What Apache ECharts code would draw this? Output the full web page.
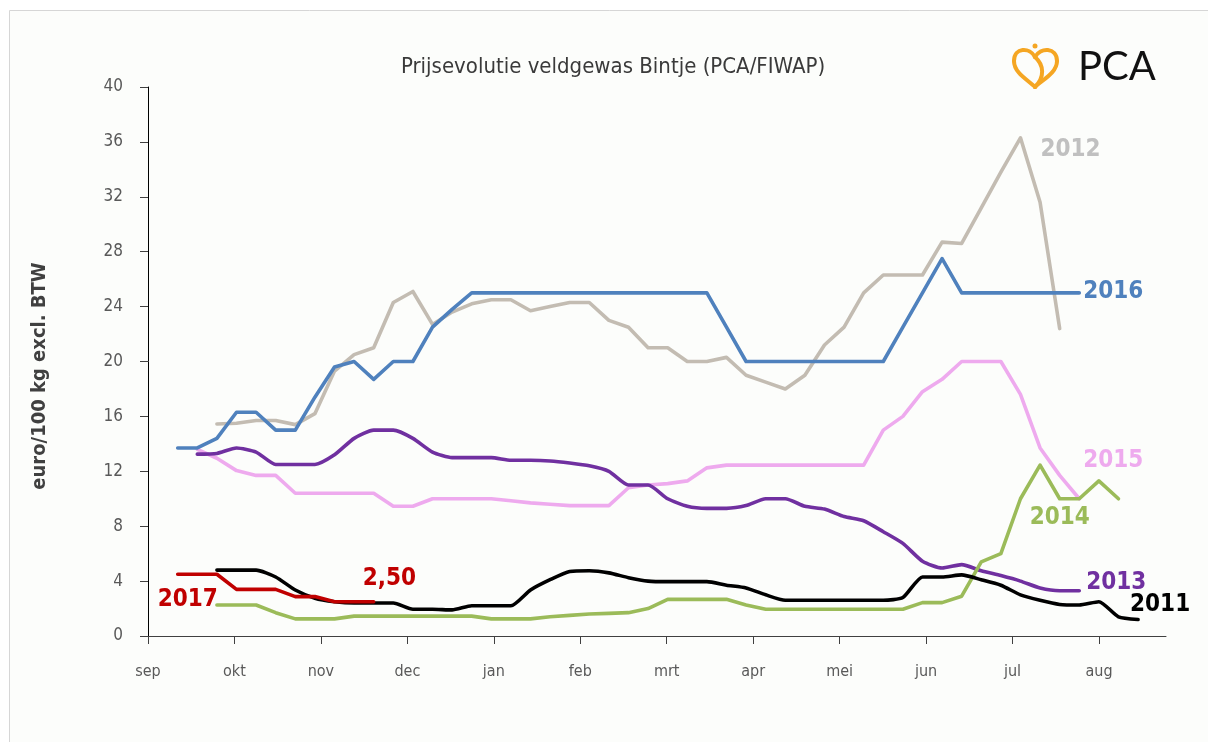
<!DOCTYPE html>
<html>
<head>
<meta charset="utf-8">
<script src="https://cdn.jsdelivr.net/npm/echarts/dist/echarts.min.js"></script>
<style>
html,body{margin:0;padding:0;background:#ffffff;}
#chart{width:1208px;height:742px;}
</style>
</head>
<body>
<div id="chart"></div>
<script>
// ---------- data ----------
const months = ['sep','okt','nov','dec','jan','feb','mrt','apr','mei','jun','jul','aug'];
const yTicks = [0,4,8,12,16,20,24,28,32,36,40];

// weekly prices (euro/100 kg); start = index of first week on the common weekly grid
const start2011 = 2;
const values2011 = [4.8,4.8,4.8,4.3,3.35,2.75,2.5,2.4,2.4,2.4,1.95,1.95,1.9,2.2,2.2,2.2,3.35,4.1,4.7,4.75,4.6,4.25,4.0,3.96,3.96,3.96,3.7,3.5,3.0,2.6,2.6,2.6,2.6,2.6,2.6,2.8,4.3,4.3,4.45,4.1,3.7,3.0,2.6,2.3,2.26,2.5,1.4,1.2];

const start2012 = 2;
const values2012 = [15.45,15.5,15.7,15.7,15.4,16.2,19.3,20.5,21.0,24.3,25.1,22.7,23.6,24.2,24.5,24.5,23.7,24.0,24.3,24.3,23.0,22.5,21.0,21.0,20.0,20.0,20.3,19.0,18.5,18.0,19.0,21.2,22.5,25.0,26.3,26.3,26.3,28.7,28.6,31.2,33.8,36.3,31.6,22.4];

const start2013 = 1;
const values2013 = [13.25,13.3,13.7,13.4,12.5,12.5,12.5,13.2,14.4,15.0,15.0,14.4,13.4,13.0,13.0,13.0,12.8,12.8,12.75,12.6,12.4,12.0,11.0,11.0,10.0,9.45,9.3,9.3,9.5,10.0,10.0,9.45,9.25,8.7,8.4,7.6,6.75,5.45,4.95,5.2,4.75,4.4,4.0,3.5,3.3,3.3];

const start2014 = 2;
const values2014 = [2.26,2.26,2.26,1.7,1.25,1.25,1.25,1.45,1.45,1.45,1.45,1.45,1.45,1.45,1.25,1.25,1.25,1.4,1.5,1.6,1.65,1.7,2.0,2.67,2.67,2.67,2.67,2.26,1.95,1.95,1.95,1.95,1.95,1.95,1.95,1.95,2.43,2.43,2.9,5.4,6.0,10.0,12.45,10.0,10.0,11.3,10.0];

const start2015 = 1;
const values2015 = [13.6,12.95,12.05,11.7,11.7,10.4,10.4,10.4,10.4,10.4,9.45,9.45,10.0,10.0,10.0,10.0,9.85,9.7,9.6,9.5,9.5,9.5,10.8,11.0,11.1,11.3,12.25,12.45,12.45,12.45,12.45,12.45,12.45,12.45,12.45,15.0,16.0,17.8,18.7,20.0,20.0,20.0,17.6,13.7,11.7,10.0];

const start2016 = 0;
const values2016 = [13.7,13.7,14.4,16.3,16.3,15.0,15.0,17.4,19.6,20.0,18.7,20.0,20.0,22.5,23.8,25.0,25.0,25.0,25.0,25.0,25.0,25.0,25.0,25.0,25.0,25.0,25.0,25.0,22.5,20.0,20.0,20.0,20.0,20.0,20.0,20.0,20.0,22.5,25.0,27.5,25.0,25.0,25.0,25.0,25.0,25.0,25.0];

const start2017 = 0;
const values2017 = [4.5,4.5,4.5,3.4,3.4,3.4,2.87,2.87,2.5,2.5,2.5];

// ---------- layout / style ----------
const FONT = "'Liberation Sans Narrow','DejaVu Sans Condensed','Roboto Condensed',sans-serif";
const X0 = 0.3436;      // first week position, in month units from 1 sep
const WEEK = 0.2267;    // one week in month units
function pts(start, vals){ return vals.map((v,i)=>[X0+(start+i)*WEEK, v]); }

const seriesDefs = [
  {name:'2012', start:start2012, vals:values2012, color:'#c3bcb2', smooth:false},
  {name:'2015', start:start2015, vals:values2015, color:'#eeaaee', smooth:false},
  {name:'2013', start:start2013, vals:values2013, color:'#7030a0', smooth:0.2},
  {name:'2014', start:start2014, vals:values2014, color:'#9bbb59', smooth:false},
  {name:'2016', start:start2016, vals:values2016, color:'#4f81bd', smooth:false},
  {name:'2011', start:start2011, vals:values2011, color:'#000000', smooth:0.2},
  {name:'2017', start:start2017, vals:values2017, color:'#c00000', smooth:false}
];

// annotation: series, index within series, text, dx/dy from the point to text left/middle
const notes = [
  {s:'2012', i:41, text:'2012', color:'#c0c0c0', dx:20, dy:12},
  {s:'2016', i:46, text:'2016', color:'#4f81bd', dx:4,  dy:-1},
  {s:'2015', i:45, text:'2015', color:'#eeaaee', dx:4,  dy:-38},
  {s:'2014', i:43, text:'2014', color:'#9bbb59', dx:-30, dy:19},
  {s:'2013', i:45, text:'2013', color:'#7030a0', dx:7,  dy:-8},
  {s:'2011', i:47, text:'2011', color:'#000000', dx:-8, dy:-15},
  {s:'2017', i:0,  text:'2017', color:'#c00000', dx:-20, dy:26},
  {s:'2017', i:10, text:'2,50', color:'#c00000', dx:-11, dy:-23}
];

const chart = echarts.init(document.getElementById('chart'), null, {renderer:'canvas'});

const option = {
  backgroundColor: '#ffffff',
  animation: false,
  title: {
    text: 'Prijsevolutie veldgewas Bintje (PCA/FIWAP)',
    left: 608, top: 51, textAlign: 'center',
    textStyle: {fontFamily: FONT, fontSize: 22, fontWeight: 'normal', color: '#3a3a3a'}
  },
  grid: {left:148, right:42, top:87, bottom:106, containLabel:false},
  xAxis: {
    type:'value', min:0, max:11.775,
    axisLine:{show:true, lineStyle:{color:'#404040', width:1}},
    axisTick:{show:true, length:8, customValues: months.map((m,i)=>i), lineStyle:{color:'#404040'}},
    axisLabel:{customValues: months.map((m,i)=>i), formatter:(v)=>months[Math.round(v)], color:'#595959', fontFamily:FONT, fontSize:16, margin:28},
    splitLine:{show:false}
  },
  yAxis: {
    type:'value', min:0, max:40, interval:4,
    axisLine:{show:true, lineStyle:{color:'#000000', width:1}},
    axisTick:{show:true, length:8, lineStyle:{color:'#404040'}},
    axisLabel:{color:'#595959', fontFamily:FONT, fontSize:17, margin:25, formatter:(v)=> yTicks.indexOf(v)>=0 ? String(v) : ''},
    splitLine:{show:false}
  },
  series: seriesDefs.map((d,idx)=>({
    type:'line', name:d.name, data: pts(d.start, d.vals),
    symbol:'none', smooth:d.smooth, z: 2+idx,
    lineStyle:{color:d.color, width:3.6, cap:'round', join:'round'},
    itemStyle:{color:d.color}
  }))
};
chart.setOption(option);

// PCA logo (heart outline) from bezier curves, in local coords then shifted
const LX = 1013, LY = 45, ORANGE = '#f5a623';
const logoCurves = [
  [22,12, 17,2, 1,2, 1,16],
  [1,16, 1,28, 15,35, 22,42],
  [22,42, 29,35, 44,28, 44,16],
  [44,16, 44,2, 27,2, 22,12],
  [22,12, 31,20, 32,32, 22,42]
];

const graphics = [
  {type:'rect', z:-100, silent:true, shape:{x:9.5, y:10.5, width:1300, height:800},
   style:{fill:'#fcfdfb', stroke:'#d6d6d6', lineWidth:1}},
  {type:'text', x:40, y:376, rotation:Math.PI/2, silent:true,
   style:{text:'euro/100 kg excl. BTW', fill:'#404040', font:"bold 20px "+FONT, align:'center', verticalAlign:'middle'}},
  {type:'circle', silent:true, shape:{cx:LX+22, cy:LY+1, r:2.5}, style:{fill:ORANGE}},
  {type:'text', x:1078, y:67, silent:true,
   style:{text:'PCA', fill:'#111111', font:"400 40px Lato, 'Open Sans', sans-serif", verticalAlign:'middle'}}
];
logoCurves.forEach(c=>{
  graphics.push({type:'bezierCurve', silent:true,
    shape:{x1:LX+c[0], y1:LY+c[1], cpx1:LX+c[2], cpy1:LY+c[3], cpx2:LX+c[4], cpy2:LY+c[5], x2:LX+c[6], y2:LY+c[7]},
    style:{stroke:ORANGE, lineWidth:4, fill:null, lineCap:'round'}});
});

notes.forEach(n=>{
  const idx = seriesDefs.findIndex(d=>d.name===n.s);
  const d = seriesDefs[idx];
  const p = chart.convertToPixel({seriesIndex: idx}, [X0+(d.start+n.i)*WEEK, d.vals[n.i]]);
  graphics.push({type:'text', x:p[0]+n.dx, y:p[1]+n.dy, silent:true, z:50,
    style:{text:n.text, fill:n.color, font:"bold 24px "+FONT, verticalAlign:'middle'}});
});

chart.setOption({graphic: graphics});
</script>
</body>
</html>
